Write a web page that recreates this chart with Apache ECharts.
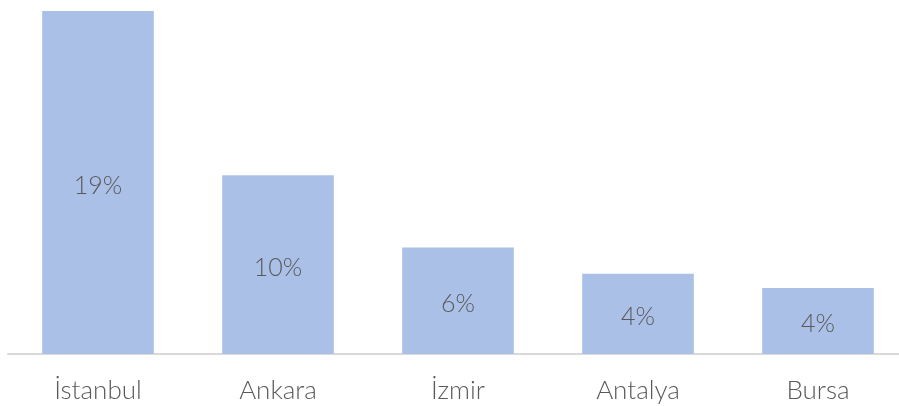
<!DOCTYPE html>
<html>
<head>
<meta charset="utf-8">
<style>
  html, body { margin: 0; padding: 0; background: #ffffff; }
  #chart { width: 899px; height: 406px; }
</style>
<script src="https://cdn.jsdelivr.net/npm/echarts@6/dist/echarts.min.js"></script>
</head>
<body>
<div id="chart"></div>
<script>
// Share of each city (percent)
const cities = ['İstanbul', 'Ankara', 'İzmir', 'Antalya', 'Bursa'];
const shares = [19.0, 9.9, 5.9, 4.45, 3.65];

const chart = echarts.init(document.getElementById('chart'), null, { renderer: 'canvas' });

const textFont = 'Lato, "Open Sans", "Noto Sans", sans-serif';

chart.setOption({
  animation: false,
  grid: {
    left: 8, width: 900, top: 11, bottom: 52,
    containLabel: false,
    outerBoundsMode: 'none'
  },
  xAxis: {
    type: 'category',
    data: cities,
    axisLine: { show: true, lineStyle: { color: '#d9d9d9', width: 2 } },
    axisTick: { show: false },
    axisLabel: {
      color: '#595959',
      fontFamily: textFont,
      fontWeight: 300,
      fontSize: 26,
      margin: 24
    }
  },
  yAxis: {
    type: 'value',
    min: 0,
    max: 19,
    show: false,
    splitLine: { show: false }
  },
  series: [{
    type: 'bar',
    data: shares,
    barCategoryGap: '38%',
    itemStyle: { color: '#abc0e7' },
    label: {
      show: true,
      position: 'inside',
      offset: [0, 3],
      color: '#595959',
      fontFamily: textFont,
      fontWeight: 300,
      fontSize: 25,
      formatter: p => Math.round(p.value) + '%'
    }
  }]
});
</script>
</body>
</html>
